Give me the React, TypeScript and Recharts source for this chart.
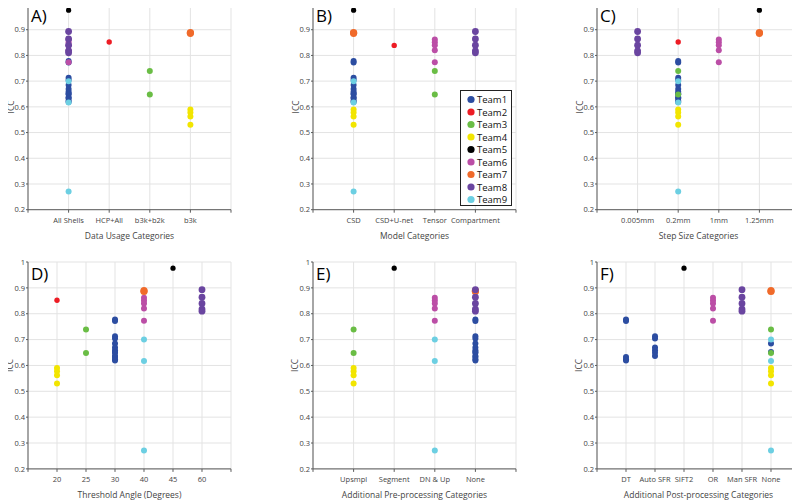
import React from 'react';
import { ScatterChart, Scatter, XAxis, YAxis, CartesianGrid, Legend } from 'recharts';

/* -------------------------------------------------------
   DATA
-------------------------------------------------------- */
const teamNames = ['Team1', 'Team2', 'Team3', 'Team4', 'Team5', 'Team6', 'Team7', 'Team8', 'Team9'];
const teamColors = ['#2c4da1', '#ed1c24', '#6abd45', '#f2e500', '#000000', '#bb4ea6', '#f06a2a', '#6a45a0', '#6ccfe2'];

// ICC values of each team's submissions
const team1Icc = [0.778, 0.772, 0.713, 0.704, 0.685, 0.669, 0.659, 0.652, 0.649, 0.637, 0.633, 0.624, 0.619];
const team2Icc = [0.852];
const team3Icc = [0.739, 0.648];
const team4Icc = [0.59, 0.578, 0.562, 0.53];
const team5Icc = [0.976];
const team6Icc = [0.862, 0.851, 0.84, 0.82, 0.773];
const team7Icc = [0.889, 0.886];
const team8Icc = [0.893, 0.864, 0.84, 0.818, 0.81];
const team9Icc = [0.7, 0.617, 0.271];
// Team2 is drawn a bit lower in the model panel
const team2IccModel = [0.839];

const yTicks = [0.2, 0.3, 0.4, 0.5, 0.6, 0.7, 0.8, 0.9, 1];

// categories of each panel
const usageCats = ['All Shells', 'HCP+All', 'b3k+b2k', 'b3k'];
const modelCats = ['CSD', 'CSD+U-net', 'Tensor', 'Compartment'];
const stepCats = ['0.005mm', '0.2mm', '1mm', '1.25mm'];
const angleCats = ['20', '25', '30', '40', '45', '60'];
const preCats = ['Upsmpl', 'Segment', 'DN & Up', 'None'];
const postCats = ['DT', 'Auto SFR', 'SIFT2', 'OR', 'Man SFR', 'None'];

// category of each team (null = not shown, array = one entry per submission)
const usageByTeam = ['All Shells', 'HCP+All', 'b3k+b2k', 'b3k', 'All Shells', 'All Shells', 'b3k', 'All Shells', 'All Shells'];
const modelByTeam = ['CSD', 'CSD+U-net', 'Tensor', 'CSD', 'CSD', 'Tensor', 'CSD', 'Compartment', 'CSD'];
const stepByTeam = ['0.2mm', '0.2mm', '0.2mm', '0.2mm', '1.25mm', '1mm', '1.25mm', '0.005mm', '0.2mm'];
const angleByTeam = ['30', '20', '25', '20', '45', '40', '40', '60', '40'];
const preByTeam = ['None', null, 'Upsmpl', 'Upsmpl', 'Segment', 'DN & Up', 'None', 'None', 'DN & Up'];
const team1Post = ['DT', 'DT', 'Auto SFR', 'Auto SFR', 'None', 'Auto SFR', 'Auto SFR', 'None', 'Auto SFR', 'Auto SFR', 'DT', 'DT', 'DT'];
const postByTeam = [team1Post, null, 'None', 'None', 'SIFT2', 'OR', 'None', 'Man SFR', 'None'];

/* -------------------------------------------------------
   HELPERS
-------------------------------------------------------- */
type Pt = { x: number; y: number };

const teamIcc = [team1Icc, team2Icc, team3Icc, team4Icc, team5Icc, team6Icc, team7Icc, team8Icc, team9Icc];
const teamIccModel = teamIcc.map((v, t) => (t === 1 ? team2IccModel : v));

const buildPoints = (cats: string[], byTeam: (string | string[] | null)[], icc: number[][]): Pt[][] =>
  byTeam.map((cat, t) => {
    if (cat === null) return [];
    return icc[t].map((v, i) => ({
      x: cats.indexOf(Array.isArray(cat) ? cat[i] : cat) + 1,
      y: v,
    }));
  });

const teamRadius = [3, 2.7, 3, 3, 2.6, 3, 3.6, 3.4, 3];

const PLOT_W = 203;
const Y_AXIS_W = 28;
const X_AXIS_H = 32;
const TOP_PAD = 4;
const RIGHT_PAD = 6;
const BOTTOM_PAD = 5;

type PanelProps = {
  letter: string;
  cats: string[];
  points: Pt[][];
  title: string;
  left: number;
  top: number;
  plotH: number;
  legend?: { left: number; top: number };
};

const LegendBox = ({ payload }: any) => {
  const items = (payload || []) as any[];
  return (
    <svg width={52} height={116}>
      <rect x={0.5} y={0.5} width={51} height={115} fill="#fff" stroke="#222" strokeWidth={1} />
      {items.map((it, i) => (
        <g key={it.value}>
          <circle cx={11} cy={9.5 + i * 12.5} r={3.6} fill={it.color} />
          <text x={17} y={9.5 + i * 12.5} dominantBaseline="central" fontSize={9.5} fill="#111">
            {it.value}
          </text>
        </g>
      ))}
    </svg>
  );
};

/* -------------------------------------------------------
   PANEL
-------------------------------------------------------- */
const Panel = ({ letter, cats, points, title, left, top, plotH, legend }: PanelProps) => {
  const width = Y_AXIS_W + PLOT_W + RIGHT_PAD;
  const height = TOP_PAD + plotH + X_AXIS_H + BOTTOM_PAD;
  const xTicks = Array.from({ length: cats.length + 2 }, (_, i) => i);

  const iccLabel = () => {
    const cx = 10;
    const cy = TOP_PAD + plotH / 2;
    return (
      <text x={cx} y={cy} transform={`rotate(-90 ${cx} ${cy})`} textAnchor="middle" dominantBaseline="central" fontSize={8.5} fill="#444">
        ICC
      </text>
    );
  };

  return (
    <div style={{ position: 'absolute', left: left - Y_AXIS_W, top: top - TOP_PAD, width, height }}>
      <ScatterChart width={width} height={height} margin={{ top: TOP_PAD, right: RIGHT_PAD, bottom: BOTTOM_PAD, left: 0 }}>
        <CartesianGrid stroke="#e3e3e3" strokeWidth={1} />
        <XAxis
          type="number"
          dataKey="x"
          domain={[0, cats.length + 1]}
          ticks={xTicks}
          interval={0}
          tickFormatter={(i: number) => cats[i - 1] ?? ''}
          height={X_AXIS_H}
          stroke="#5a5a5a"
          tickSize={3}
          tickMargin={5}
          tick={{ fontSize: 7.5, fill: '#444' }}
          label={{ value: title, position: 'insideBottom', offset: 3, fontSize: 8.5, fill: '#444' }}
        />
        <YAxis
          type="number"
          dataKey="y"
          domain={[0.2, 1]}
          ticks={yTicks}
          interval={0}
          width={Y_AXIS_W}
          tickFormatter={(v: number) => (v === 1 ? '1' : v.toFixed(1))}
          stroke="#5a5a5a"
          tickSize={2}
          tickMargin={1}
          tick={{ fontSize: 7.5, fill: '#444' }}
          label={{ value: 'ICC', content: iccLabel }}
        />
        {teamNames.map((name, t) => (
          <Scatter
            key={name}
            name={name}
            data={points[t]}
            fill={teamColors[t]}
            isAnimationActive={false}
            shape={(p: any) => <circle cx={p.cx} cy={p.cy} r={teamRadius[t]} fill={teamColors[t]} />}
          />
        ))}
        {legend && (
          <Legend
            layout="vertical"
            align="center"
            verticalAlign="middle"
            content={<LegendBox />}
            wrapperStyle={{ left: legend.left, top: legend.top, width: 52, height: 116 }}
          />
        )}
      </ScatterChart>
      <svg width={width} height={height} style={{ position: 'absolute', left: 0, top: 0, pointerEvents: 'none' }}>
        <text x={Y_AXIS_W + 3} y={TOP_PAD + 18} fontSize={17} fill="#000">
          {letter}
        </text>
      </svg>
    </div>
  );
};

/* -------------------------------------------------------
   APP
-------------------------------------------------------- */
export default function App() {
  const topY = 4.3;
  const topH = 205.7;
  const botY = 261.8;
  const botH = 206.9;

  return (
    <div
      style={{
        position: 'relative',
        width: 800,
        height: 500,
        margin: '-8px 0 0 -8px',
        overflow: 'hidden',
        background: '#fff',
        fontFamily: '"Open Sans", "Noto Sans", sans-serif',
      }}
    >
      <Panel letter="A)" cats={usageCats} points={buildPoints(usageCats, usageByTeam, teamIcc)} title="Data Usage Categories" left={28} top={topY} plotH={topH} />
      <Panel
        letter="B)"
        cats={modelCats}
        points={buildPoints(modelCats, modelByTeam, teamIccModel)}
        title="Model Categories"
        left={313.3}
        top={topY}
        plotH={topH}
        legend={{ left: 174.5, top: 89.5 }}
      />
      <Panel letter="C)" cats={stepCats} points={buildPoints(stepCats, stepByTeam, teamIcc)} title="Step Size Categories" left={596.7} top={topY} plotH={topH} />
      <Panel letter="D)" cats={angleCats} points={buildPoints(angleCats, angleByTeam, teamIcc)} title="Threshold Angle (Degrees)" left={28} top={botY} plotH={botH} />
      <Panel letter="E)" cats={preCats} points={buildPoints(preCats, preByTeam, teamIcc)} title="Additional Pre-processing Categories" left={312.7} top={botY} plotH={botH} />
      <Panel letter="F)" cats={postCats} points={buildPoints(postCats, postByTeam, teamIcc)} title="Additional Post-processing Categories" left={596.7} top={botY} plotH={botH} />
    </div>
  );
}
